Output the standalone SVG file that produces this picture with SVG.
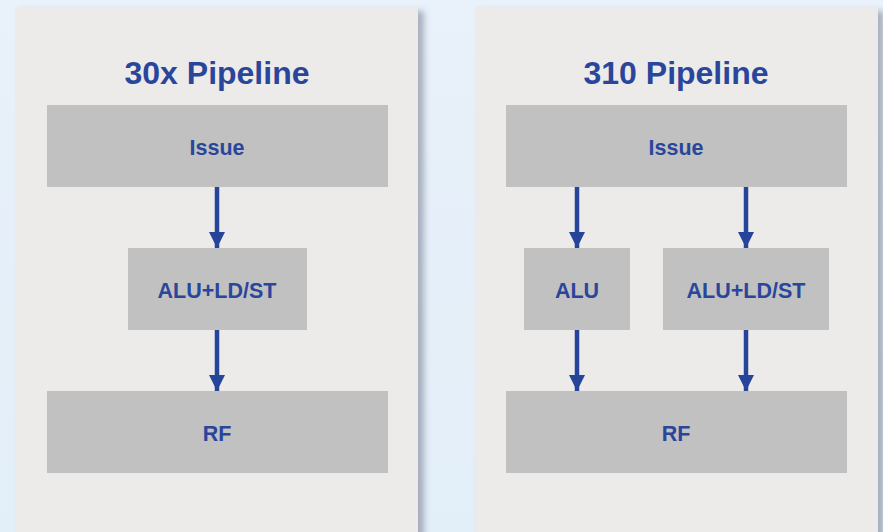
<svg xmlns="http://www.w3.org/2000/svg" width="883" height="532" viewBox="0 0 883 532">
<defs>
<linearGradient id="bg" x1="0" y1="0" x2="0" y2="1">
<stop offset="0" stop-color="#e9f1fa"/>
<stop offset="1" stop-color="#e2eef8"/>
</linearGradient>
<filter id="sh" x="-5%" y="-5%" width="115%" height="115%">
<feDropShadow dx="6" dy="4" stdDeviation="3" flood-color="#5a6474" flood-opacity="0.45"/>
</filter>
<marker id="ah" markerUnits="userSpaceOnUse" markerWidth="16" markerHeight="16" refX="16" refY="8" orient="auto">
<path d="M0,0 L16,8 L0,16 Z" fill="#26449a"/>
</marker>
<style>
.panel{fill:#ecebe9;filter:url(#sh)}
.box{fill:#c1c1c1}
.title{font-family:"Liberation Sans",Arial,sans-serif;font-weight:bold;font-size:32px;fill:#2a469b;text-anchor:middle}
.lbl{font-family:"Liberation Sans",Arial,sans-serif;font-weight:bold;font-size:21.5px;fill:#2a469b;text-anchor:middle}
.arr{stroke:#26449a;stroke-width:4.5;fill:none;marker-end:url(#ah)}
</style>
</defs>
<rect width="883" height="532" fill="url(#bg)"/>
<g id="panel-30x">
<rect class="panel" x="15" y="7" width="403" height="540"/>
<text class="title" x="217" y="84">30x Pipeline</text>
</g>
<g id="panel-310">
<rect class="panel" x="475" y="7" width="403" height="540"/>
<text class="title" x="676" y="84">310 Pipeline</text>
</g>
<g id="issue-30x"><rect class="box" x="47" y="105" width="341" height="82"/><text class="lbl" x="217" y="155">Issue</text></g>
<g id="alu-ldst-30x"><rect class="box" x="128" y="248" width="179" height="82"/><text class="lbl" x="217" y="298">ALU+LD/ST</text></g>
<g id="rf-30x"><rect class="box" x="47" y="391" width="341" height="82"/><text class="lbl" x="217" y="441">RF</text></g>
<g id="issue-310"><rect class="box" x="506" y="105" width="341" height="82"/><text class="lbl" x="676" y="155">Issue</text></g>
<g id="alu-310"><rect class="box" x="524" y="248" width="106" height="82"/><text class="lbl" x="577" y="298">ALU</text></g>
<g id="alu-ldst-310"><rect class="box" x="663" y="248" width="166" height="82"/><text class="lbl" x="746" y="298">ALU+LD/ST</text></g>
<g id="rf-310"><rect class="box" x="506" y="391" width="341" height="82"/><text class="lbl" x="676" y="441">RF</text></g>
<g id="connectors">
<line class="arr" x1="217" y1="187" x2="217" y2="248"/>
<line class="arr" x1="217" y1="330" x2="217" y2="391"/>
<line class="arr" x1="577" y1="187" x2="577" y2="248"/>
<line class="arr" x1="577" y1="330" x2="577" y2="391"/>
<line class="arr" x1="746" y1="187" x2="746" y2="248"/>
<line class="arr" x1="746" y1="330" x2="746" y2="391"/>
</g>
</svg>
